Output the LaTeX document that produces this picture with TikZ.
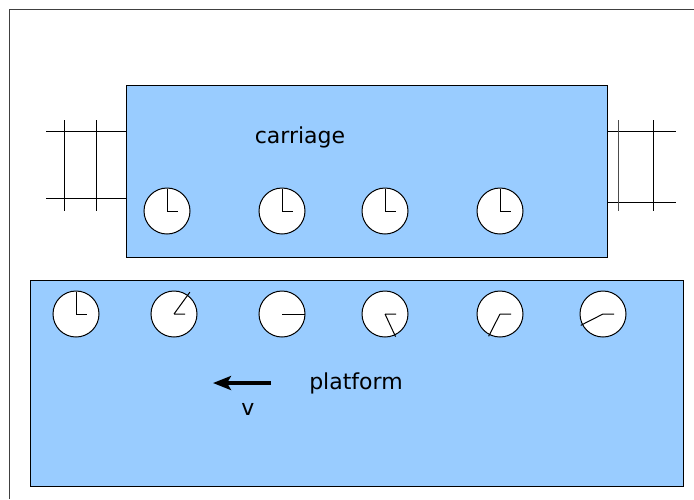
\documentclass[tikz,border=0pt]{standalone}
\usepackage{fontspec}
\setmainfont{DejaVu Sans}
\usetikzlibrary{arrows.meta}
\definecolor{wagonblue}{HTML}{99CCFF}
\tikzstyle{block}=[draw, line width=1pt, fill=wagonblue, inner sep=0pt]
\tikzstyle{clock}=[circle, draw, line width=1pt, fill=white, minimum size=46pt, inner sep=0pt]
\tikzstyle{hand}=[line width=1pt]
\tikzstyle{rail}=[line width=1pt]
\tikzstyle{label}=[font=\fontsize{22}{26}\selectfont, inner sep=0pt]

\begin{document}
\begin{tikzpicture}[x=1pt, y=-1pt]
        \useasboundingbox (0,0) rectangle (694,499);
        %% Marco
        \draw[line width=0.9pt, black!75] (9.5,499) -- (9.5,9.5) -- (694,9.5);

        %% Vagon
        \node[block, minimum width=481pt, minimum height=172pt] (carriage) at (366.5,171) {};
        \node[label] (carriagetext) at (300,137) {carriage};
        % Vias
        \draw[rail] (46,131.5) -- (126,131.5);
        \draw[rail] (46,198.5) -- (126,198.5);
        \draw[rail] (64.5,120) -- (64.5,211);
        \draw[rail] (96.5,120) -- (96.5,211);
        \draw[rail] (607,131.5) -- (676,131.5);
        \draw[rail] (607,202.5) -- (676,202.5);
        \draw[rail, black!70] (618.5,120) -- (618.5,211);
        \draw[rail] (653.5,120) -- (653.5,211);
        % Relojes
        \node[clock] (c1) at (167,211) {};
        \node[clock] (c2) at (282,211) {};
        \node[clock] (c3) at (385,211) {};
        \node[clock] (c4) at (500,211) {};
        \draw[hand] (c1.center) -- ++(0,-22) (c1.center) -- ++(11,0);
        \draw[hand] (c2.center) -- ++(0,-22) (c2.center) -- ++(11,0);
        \draw[hand] (c3.center) -- ++(0,-22) (c3.center) -- ++(11,0);
        \draw[hand] (c4.center) -- ++(0,-22) (c4.center) -- ++(11,0);

        %% Anden
        \node[block, minimum width=653pt, minimum height=206pt] (platform) at (356.5,383) {};
        \node[label] (platformtext) at (356,383) {platform};
        % Relojes
        \node[clock] (p1) at (76,314) {};
        \node[clock] (p2) at (174,314) {};
        \node[clock] (p3) at (282,314) {};
        \node[clock] (p4) at (385,314) {};
        \node[clock] (p5) at (500,314) {};
        \node[clock] (p6) at (603,314) {};
        \draw[hand] (p1.center) -- ++(0,-22) (p1.center) -- ++(11,0);
        \draw[hand] (p2.center) -- ++(-54:27) (p2.center) -- ++(11,0);
        \draw[hand] (p3.center) -- ++(0:23) (p3.center) -- ++(11,0);
        \draw[hand] (p4.center) -- ++(65:25) (p4.center) -- ++(11,0);
        \draw[hand] (p5.center) -- ++(117:25) (p5.center) -- ++(11,0);
        \draw[hand] (p6.center) -- ++(153:25) (p6.center) -- ++(11,0);
        % Velocidad
        \coordinate (vtail) at (271,383);
        \coordinate (vhead) at (213,383);
        \draw[line width=3.5pt, -{Stealth[length=18pt, width=14pt, inset=4pt]}] (vtail) -- (vhead);
        \node[label] (vtext) at (248,409) {v};
\end{tikzpicture}
\end{document}
